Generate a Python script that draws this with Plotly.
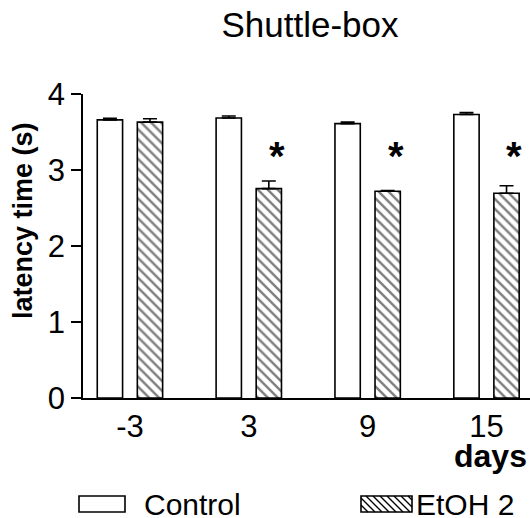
import plotly.graph_objects as go

# ---- data ----
days = ["-3", "3", "9", "15"]
control = [3.66, 3.685, 3.61, 3.73]
control_err = [0.02, 0.025, 0.02, 0.025]
etoh = [3.63, 2.755, 2.72, 2.695]
etoh_err = [0.045, 0.10, 0.01, 0.097]
significant = [False, True, True, True]
yticks = [0, 1, 2, 3, 4]

FONT = "Liberation Sans, Arial, Helvetica, sans-serif"
W_FIG, H_FIG = 530, 518
L, T, R, B = 83, 94, 0, 120
PW = W_FIG - L - R
PH = H_FIG - T - B


def px(x):
    """screen pixel x -> paper x"""
    return (x - L) / PW


def py(y):
    """screen pixel y -> paper y"""
    return (T + PH - y) / PH


xpos = list(range(len(days)))
bw = 0.213

fig = go.Figure()
fig.add_trace(go.Bar(
    x=xpos, y=control, name="Control", width=bw, offset=-0.275,
    marker=dict(color="white", line=dict(color="black", width=1.6)),
    error_y=dict(type="data", array=control_err, arrayminus=[0] * 4, symmetric=False,
                 color="black", thickness=1.6, width=7),
    showlegend=False,
))
fig.add_trace(go.Bar(
    x=xpos, y=etoh, name="EtOH 2", width=bw, offset=0.062,
    marker=dict(color="white", line=dict(color="black", width=1.6),
                pattern=dict(shape="\\", size=7, solidity=0.35, fgcolor="black", bgcolor="white")),
    error_y=dict(type="data", array=etoh_err, arrayminus=[0] * 4, symmetric=False,
                 color="black", thickness=1.6, width=7),
    showlegend=False,
))

annotations = []
for i, s in enumerate(significant):
    if s:
        annotations.append(dict(x=i + 0.235, y=3.18, xref="x", yref="y", text="<b>*</b>",
                                showarrow=False, font=dict(size=40, color="black", family=FONT),
                                xanchor="center", yanchor="middle"))

# y-axis title
annotations.append(dict(x=px(23), y=py(221), xref="paper", yref="paper", text="<b>latency time (s)</b>",
                        textangle=-90, showarrow=False, font=dict(size=27, color="black", family=FONT),
                        xanchor="center", yanchor="middle"))
# x-axis title
annotations.append(dict(x=px(490), y=py(456), xref="paper", yref="paper", text="<b>days</b>",
                        showarrow=False, font=dict(size=32, color="black", family=FONT),
                        xanchor="center", yanchor="middle"))

# legend (drawn manually)
shapes = []
leg_y0, leg_y1 = 496, 512
boxes = [(79, 125, "Control", 142, False), (361, 412, "EtOH 2", 414, True)]
for x0, x1, label, tx, hatched in boxes:
    shapes.append(dict(type="rect", xref="paper", yref="paper", x0=px(x0), x1=px(x1),
                       y0=py(leg_y1), y1=py(leg_y0), line=dict(color="black", width=1.6),
                       fillcolor="white"))
    if hatched:
        h = leg_y1 - leg_y0
        segs = []
        a = x0 - h
        while a < x1:
            sx = max(a, x0)
            ex = min(a + h, x1)
            if ex > sx:
                sy = leg_y0 + (sx - a)
                ey = leg_y0 + (ex - a)
                segs.append(f"M{px(sx)},{py(sy)} L{px(ex)},{py(ey)}")
            a += 7
        shapes.append(dict(type="path", xref="paper", yref="paper", path=" ".join(segs),
                           line=dict(color="black", width=1.4)))
    annotations.append(dict(x=px(tx), y=py((leg_y0 + leg_y1) / 2), xref="paper", yref="paper",
                            text=label, showarrow=False, xanchor="left", yanchor="middle",
                            font=dict(size=30, color="black", family=FONT)))

fig.update_layout(
    width=W_FIG, height=H_FIG,
    margin=dict(l=L, r=R, t=T, b=B, pad=0),
    paper_bgcolor="white", plot_bgcolor="white",
    title=dict(text="Shuttle-box", x=310 / W_FIG, xref="container", xanchor="center",
               y=1 - 25 / H_FIG, yref="container", yanchor="middle",
               font=dict(size=35, color="black", family=FONT)),
    xaxis=dict(range=[-0.395, 3.366], tickvals=xpos, ticktext=days, ticks="",
               showline=True, linecolor="black", linewidth=1.6, showgrid=False, zeroline=False,
               tickfont=dict(size=31, color="black", family=FONT)),
    yaxis=dict(range=[0, 4], tickvals=yticks, ticks="outside", ticklen=10, tickwidth=1.6,
               tickcolor="black", showline=True, linecolor="black", linewidth=1.6,
               showgrid=False, zeroline=False,
               tickfont=dict(size=31, color="black", family=FONT)),
    annotations=annotations, shapes=shapes,
)

fig.write_html(
    "out.html",
    config={"displayModeBar": False},
    post_script="document.documentElement.style.overflow='hidden';"
                "document.body.style.margin='0';document.body.style.overflow='hidden';",
)
